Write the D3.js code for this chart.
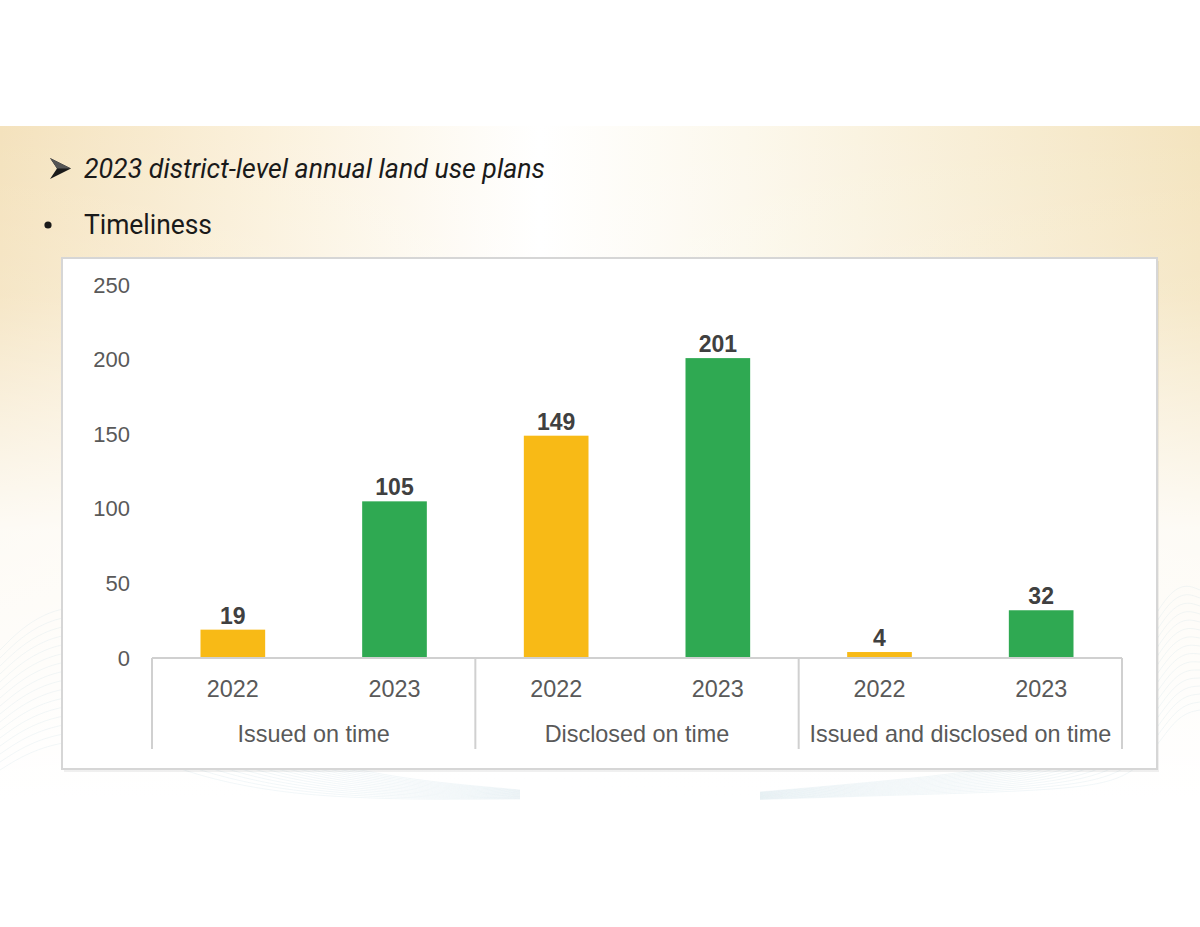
<!DOCTYPE html>
<html><head><meta charset="utf-8">
<script src="https://cdn.jsdelivr.net/npm/d3@7"></script>
<style>html,body{margin:0;padding:0;background:#fff;}svg{display:block;}</style>
</head><body>
<script>
// ---- data ----
const groups = ["Issued on time", "Disclosed on time", "Issued and disclosed on time"];
const years = ["2022", "2023"];
const values2022 = [19, 149, 4];
const values2023 = [105, 201, 32];
const yTicks = [0, 50, 100, 150, 200, 250];
const titleText = "2023 district-level annual land use plans";
const subtitleText = "Timeliness";
const colors = {"2022": "#F8BA16", "2023": "#2FA952"};

const W = 1200, H = 927;
const svg = d3.select("body").append("svg").attr("width", W).attr("height", H);
const defs = svg.append("defs");

// background band gradient
const gh = defs.append("linearGradient").attr("id", "bgH").attr("x1", "0").attr("x2", "1").attr("y1", "0").attr("y2", "0");
gh.append("stop").attr("offset", "0").attr("stop-color", "#f4e2bd");
gh.append("stop").attr("offset", "0.22").attr("stop-color", "#fbf1dc");
gh.append("stop").attr("offset", "0.45").attr("stop-color", "#ffffff");
gh.append("stop").attr("offset", "0.62").attr("stop-color", "#fcf8ec");
gh.append("stop").attr("offset", "1").attr("stop-color", "#f4e4bf");
const gv = defs.append("linearGradient").attr("id", "bgV").attr("x1", "0").attr("x2", "0").attr("y1", "0").attr("y2", "1");
gv.append("stop").attr("offset", "0").attr("stop-color", "#fff").attr("stop-opacity", 0);
gv.append("stop").attr("offset", "0.25").attr("stop-color", "#fff").attr("stop-opacity", 0.15);
gv.append("stop").attr("offset", "0.6").attr("stop-color", "#fff").attr("stop-opacity", 0.85);
gv.append("stop").attr("offset", "1").attr("stop-color", "#fff").attr("stop-opacity", 1);

svg.append("rect").attr("x", 0).attr("y", 126).attr("width", W).attr("height", 674).attr("fill", "url(#bgH)");
svg.append("rect").attr("x", 0).attr("y", 126).attr("width", W).attr("height", 674).attr("fill", "url(#bgV)");

// faint mountain wireframe decoration
const deco = svg.append("g").attr("fill", "none").attr("stroke", "#b9d3df").attr("stroke-opacity", 0.3).attr("stroke-width", 0.6);
const line = d3.line().curve(d3.curveBasis);
for (let i = 0; i < 16; i++) {
  deco.append("path").attr("d", line([[0, 650 + i * 8], [40, 610 + i * 9], [110, 600 + i * 9], [170, 680 + i * 6], [300, 770 + i * 2], [520, 790 + i * 0.6]]));
  deco.append("path").attr("d", line([[760, 792 + i * 0.5], [900, 780 + i], [1080, 760 + i * 2], [1140, 640 + i * 9], [1175, 580 + i * 9], [1200, 590 + i * 8]]));
}

// title lines
svg.append("path").attr("d", "M50,158 L71,168.5 L50,179 L57,168.5 Z").attr("fill", "#1a1a1a");
svg.append("path").attr("d", "M50,158 L71,168.5 L57,168.5 Z").attr("fill", "#555");
svg.append("text").attr("x", 84).attr("y", 178).attr("font-family", "Roboto").attr("font-style", "italic").attr("font-size", 28).attr("fill", "#1a1a1a")
  .attr("textLength", 461).attr("lengthAdjust", "spacingAndGlyphs").text(titleText);
svg.append("circle").attr("cx", 48).attr("cy", 225).attr("r", 3.6).attr("fill", "#1a1a1a");
svg.append("text").attr("x", 84).attr("y", 234).attr("font-family", "Roboto").attr("font-size", 28).attr("fill", "#1a1a1a")
  .attr("textLength", 128).attr("lengthAdjust", "spacingAndGlyphs").text(subtitleText);

// chart box
svg.append("rect").attr("x", 64).attr("y", 261).attr("width", 1095).attr("height", 511).attr("fill", "#000").attr("opacity", 0.06);
svg.append("rect").attr("x", 62).attr("y", 258).attr("width", 1095).attr("height", 511).attr("fill", "#fff").attr("stroke", "#d6d6d6").attr("stroke-width", 2);

const x0 = 152, x1 = 1122, yBase = 658;
const y = d3.scaleLinear().domain([0, 250]).range([yBase, 285]);
const gx = d3.scaleBand().domain(groups).range([x0, x1]).paddingInner(0).paddingOuter(0);
const xx = d3.scaleBand().domain(years).range([0, gx.bandwidth()]).paddingInner(0.6).paddingOuter(0.3);

// y axis
const yAxis = d3.axisLeft(y).tickValues(yTicks).tickSize(0).tickPadding(0);
const ya = svg.append("g").attr("transform", "translate(130,0)").call(yAxis);
ya.select(".domain").remove();
ya.selectAll("text").attr("font-family", "Liberation Sans, Arial").attr("font-size", 22).attr("fill", "#595959");

// bars
const data = [];
groups.forEach((g, i) => {
  data.push({g, yr: "2022", v: values2022[i]});
  data.push({g, yr: "2023", v: values2023[i]});
});
const gBars = svg.append("g");
gBars.selectAll("rect").data(data).join("rect")
  .attr("x", d => gx(d.g) + xx(d.yr))
  .attr("width", xx.bandwidth())
  .attr("y", d => y(d.v))
  .attr("height", d => yBase - y(d.v))
  .attr("fill", d => colors[d.yr]);
gBars.selectAll("text").data(data).join("text")
  .attr("x", d => gx(d.g) + xx(d.yr) + xx.bandwidth() / 2)
  .attr("y", d => y(d.v) - 6)
  .attr("text-anchor", "middle")
  .attr("font-family", "Liberation Sans, Arial").attr("font-weight", "bold").attr("font-size", 23).attr("fill", "#404040")
  .text(d => d.v);

// x axis (multi-level)
const ax = svg.append("g");
ax.append("line").attr("x1", x0).attr("x2", x1).attr("y1", yBase).attr("y2", yBase).attr("stroke", "#d0d0d0").attr("stroke-width", 2);
const seps = [x0].concat(groups.map(g => gx(g) + gx.bandwidth()));
ax.selectAll("line.sep").data(seps).join("line").attr("class", "sep")
  .attr("x1", d => d).attr("x2", d => d).attr("y1", yBase).attr("y2", 749).attr("stroke", "#d0d0d0").attr("stroke-width", 2);
ax.selectAll("text.yr").data(data).join("text").attr("class", "yr")
  .attr("x", d => gx(d.g) + xx(d.yr) + xx.bandwidth() / 2).attr("y", 697)
  .attr("text-anchor", "middle").attr("font-family", "Liberation Sans, Arial").attr("font-size", 23.4).attr("fill", "#595959")
  .text(d => d.yr);
ax.selectAll("text.grp").data(groups).join("text").attr("class", "grp")
  .attr("x", d => gx(d) + gx.bandwidth() / 2).attr("y", 742)
  .attr("text-anchor", "middle").attr("font-family", "Liberation Sans, Arial").attr("font-size", 23.4).attr("fill", "#595959")
  .text(d => d);
</script>
</body></html>
